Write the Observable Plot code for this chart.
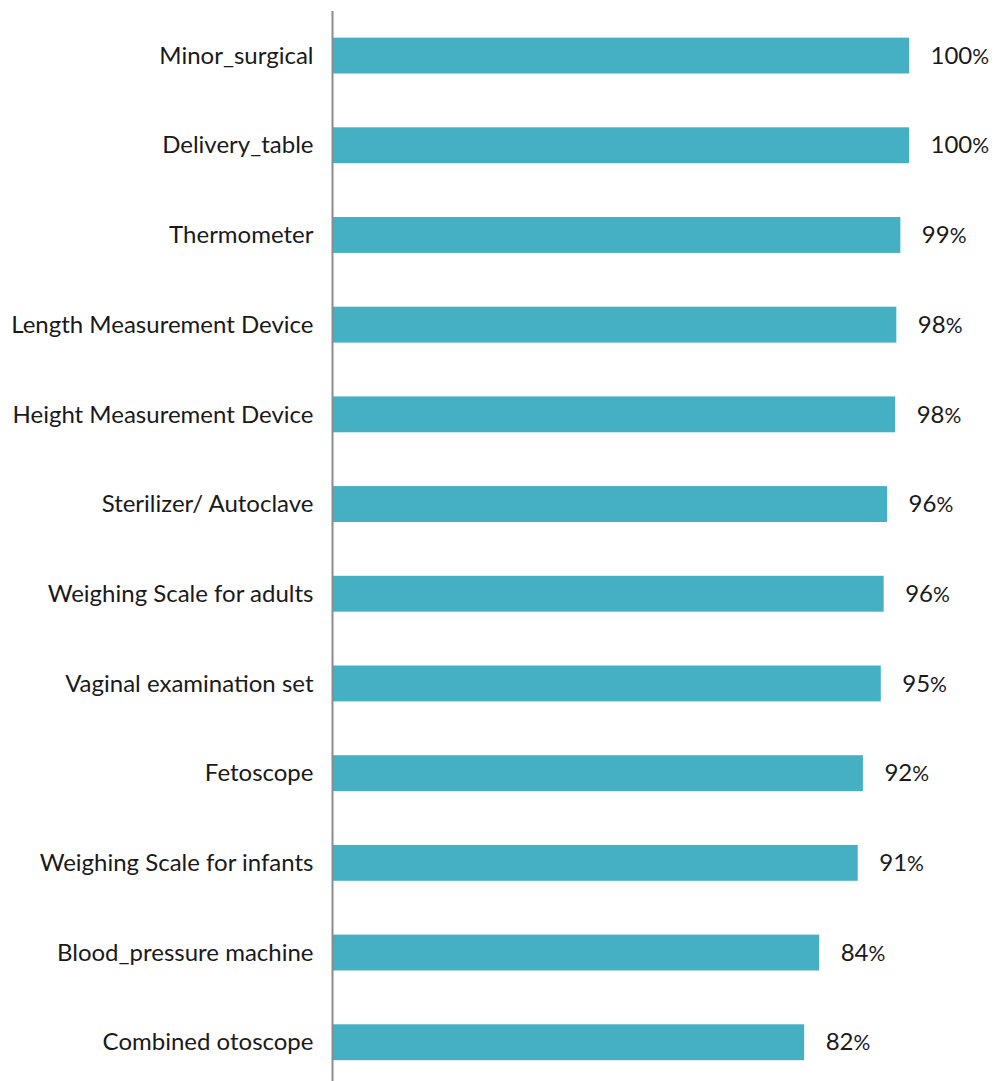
<!DOCTYPE html>
<html>
<head>
<meta charset="utf-8">
<script src="https://cdn.jsdelivr.net/npm/d3@7"></script>
<script src="https://cdn.jsdelivr.net/npm/@observablehq/plot@0.6"></script>
<style>
  html, body { margin: 0; padding: 0; background: #fff; }
  #chart svg { display: block; }
  #chart svg text { font-family: 'Lato', sans-serif; font-weight: 400; }
</style>
</head>
<body>
<div id="chart"></div>
<script>
const categories = [
  "Minor_surgical",
  "Delivery_table",
  "Thermometer",
  "Length Measurement Device",
  "Height Measurement Device",
  "Sterilizer/ Autoclave",
  "Weighing Scale for adults",
  "Vaginal examination set",
  "Fetoscope",
  "Weighing Scale for infants",
  "Blood_pressure machine",
  "Combined otoscope"
];
const values = [100, 100, 98.5, 97.8, 97.6, 96.2, 95.6, 95.1, 92.0, 91.1, 84.4, 81.8];
const labels = [100, 100, 99, 98, 98, 96, 96, 95, 92, 91, 84, 82];

const data = categories.map((c, i) => ({category: c, value: values[i], label: labels[i] + "%"}));

const font = "'Lato', sans-serif";

const chart = Plot.plot({
  width: 1002,
  height: 1081,
  marginLeft: 333,
  marginRight: 93,
  marginTop: 11,
  marginBottom: 0,
  style: {fontFamily: font, fontSize: "24px", color: "#1a1a1a", background: "#fff"},
  x: {domain: [0, 100], axis: null},
  y: {domain: categories, range: [-16.2, 1114], padding: 0.6, round: false, label: null, tickSize: 0, tickPadding: 20},
  marks: [
    Plot.barX(data, {y: "category", x: "value", fill: "#45AFC4"}),
    Plot.text(data, {y: "category", x: "value", text: "label", textAnchor: "start", dx: 21, fontSize: 24, fill: "#1a1a1a"}),
    Plot.ruleX([0], {stroke: "#8c8c8c", strokeWidth: 2, dx: -1})
  ]
});

document.getElementById("chart").appendChild(chart);

// shrink the % sign slightly like the reference
d3.select(chart).selectAll("text").each(function() {
  const t = d3.select(this);
  if (t.selectAll("tspan").size() === 0) {
    const s = t.text();
    if (/^\d+%$/.test(s)) {
      t.text(s.slice(0, -1));
      t.append("tspan").attr("font-size", "21px").text("%");
    }
  }
});
</script>
</body>
</html>
